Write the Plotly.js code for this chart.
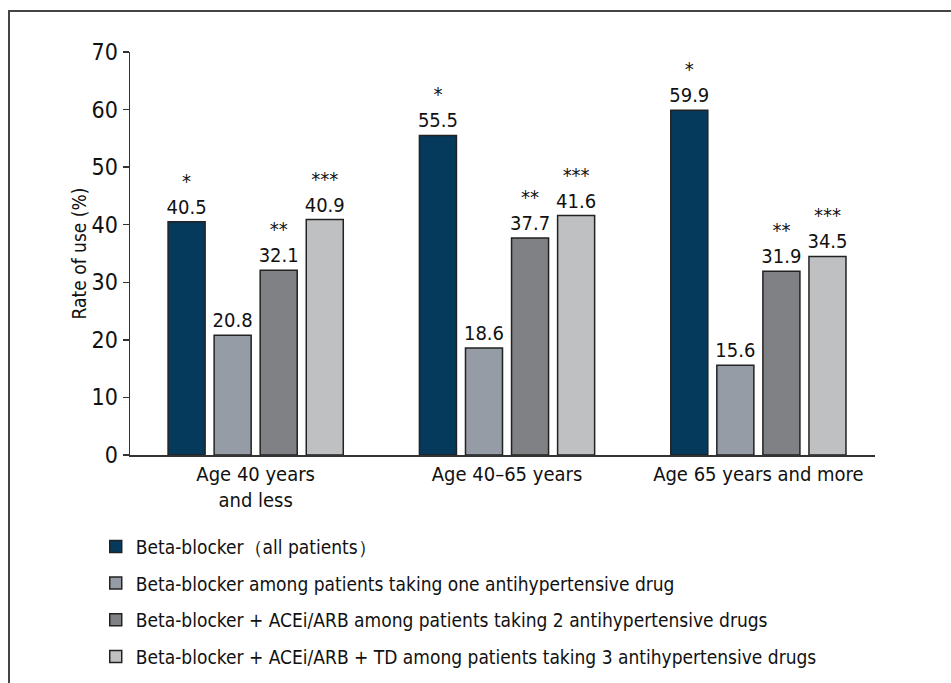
<!DOCTYPE html>
<html>
<head>
<meta charset="utf-8">
<script src="https://cdn.plot.ly/plotly-3.0.1.min.js"></script>
<style>html,body{margin:0;padding:0;background:#fff;}#chart{width:951px;height:683px;}</style>
</head>
<body>
<div id="chart"></div>
<script>
const categories = ["Age 40 years<br>and less", "Age 40–65 years", "Age 65 years and more"];
const seriesNames = [
  "Beta-blocker（all patients）",
  "Beta-blocker among patients taking one antihypertensive drug",
  "Beta-blocker + ACEi/ARB among patients taking 2 antihypertensive drugs",
  "Beta-blocker + ACEi/ARB + TD among patients taking 3 antihypertensive drugs"
];
const betaAll = [40.5, 55.5, 59.9];
const betaOne = [20.8, 18.6, 15.6];
const betaAceTwo = [32.1, 37.7, 31.9];
const betaAceTdThree = [40.9, 41.6, 34.5];
const significance = ["*", "", "**", "***"];
const yTicks = [0, 10, 20, 30, 40, 50, 60, 70];

const colors = ["#063a5c", "#959ca5", "#808185", "#bfc0c2"];
const FONT = "'Liberation Sans Narrow', 'DejaVu Sans Condensed', 'Arial Narrow', sans-serif";
const allSeries = [betaAll, betaOne, betaAceTwo, betaAceTdThree];

const traces = allSeries.map((vals, i) => ({
  type: "bar",
  name: seriesNames[i],
  x: categories,
  y: vals,
  text: vals.map(v => (significance[i] ? significance[i] + "<br>" : "") + v.toFixed(1)),
  textposition: "outside",
  texttemplate: "%{text}",
  constraintext: "none",
  cliponaxis: false,
  textfont: {family: FONT, size: 20, color: "#111"},
  marker: {color: colors[i], line: {color: "#222", width: 1.5}},
  legendgroup: "g" + i,
  hoverinfo: "skip"
}));

const layout = {
  width: 951, height: 683,
  paper_bgcolor: "#fff", plot_bgcolor: "#fff",
  margin: {l: 130, r: 76, t: 52, b: 228, autoexpand: false},
  font: {family: FONT, color: "#111"},
  barmode: "group",
  bargap: 0.267,
  bargroupgap: 0.196,
  showlegend: true,
  legend: {
    x: -0.046, xanchor: "left", y: -0.18, yanchor: "top",
    font: {family: FONT, size: 19, color: "#111"},
    tracegroupgap: 9, traceorder: "grouped",
    bgcolor: "rgba(0,0,0,0)"
  },
  xaxis: {
    type: "category",
    range: [-0.5, 2.464],
    showline: true, linecolor: "#333", linewidth: 1.5,
    ticks: "", showgrid: false, zeroline: false,
    tickfont: {family: FONT, size: 20, color: "#111"}
  },
  yaxis: {
    range: [0, 70],
    tickvals: yTicks,
    showline: true, linecolor: "#333", linewidth: 1.5,
    ticks: "outside", ticklen: 6, tickcolor: "#333", tickwidth: 1.5,
    showgrid: false, zeroline: false,
    tickfont: {family: FONT, size: 23, color: "#111"},
    title: {text: "Rate of use (%)", font: {family: FONT, size: 19, color: "#111"}, standoff: 0}
  },
  shapes: [{
    type: "rect", xref: "paper", yref: "paper",
    x0: -0.1624, x1: 1.3, y0: -1, y1: 1.1017,
    line: {color: "#444", width: 2}, fillcolor: "rgba(0,0,0,0)", layer: "below"
  }]
};

Plotly.newPlot("chart", traces, layout, {displayModeBar: false, staticPlot: true});
</script>
</body>
</html>
